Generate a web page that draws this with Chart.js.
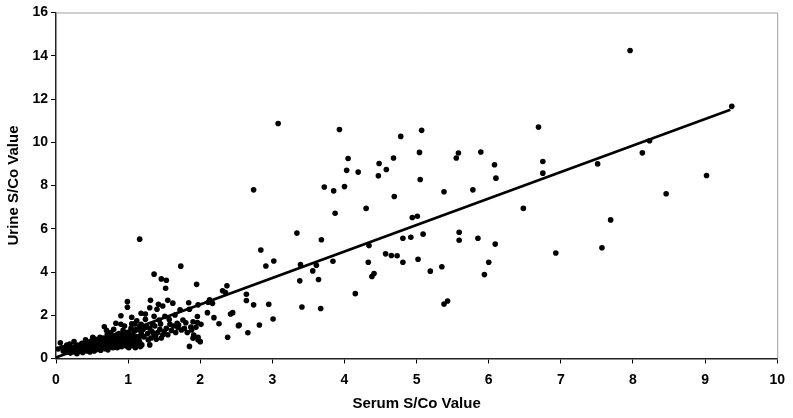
<!DOCTYPE html>
<html>
<head>
<meta charset="utf-8"/>
<title>Serum vs Urine S/Co</title>
<script src="https://cdn.jsdelivr.net/npm/chart.js@4.4.1/dist/chart.umd.min.js"></script>
<style>
  html, body { margin: 0; padding: 0; background: #fff; }
</style>
</head>
<body>
<canvas id="myChart" width="793" height="418"></canvas>
<script>
// serum (x) and urine (y) S/Co values
var serum = [
  // upper / right points
  7.96, 9.37, 7.51, 8.13, 8.23, 9.02, 8.46, 7.69, 7.57, 6.93,
  4.78, 5.07, 5.04, 5.58, 5.55, 5.89, 6.08, 6.10, 6.69, 6.75,
  6.75, 5.05, 5.38, 5.78, 6.48, 4.94, 5.01, 4.81, 4.92, 5.09,
  5.59, 5.59, 5.85, 6.09, 4.81, 5.02, 5.19, 5.35, 6.00, 5.94,
  5.38, 5.43, 3.08, 3.93, 4.05, 4.03, 4.19, 4.48, 4.47, 4.58,
  4.68, 3.72, 3.85, 4.00, 4.69, 3.87, 4.30, 3.34, 3.68, 2.84,
  2.91, 3.02, 3.39, 3.61, 3.56, 3.38, 3.64, 3.84, 4.34, 4.33,
  4.57, 4.65, 4.73, 4.41, 4.38, 4.15, 2.95, 3.41, 3.67, 2.82,
  3.01, 2.54, 2.66, 2.64, 2.64, 2.74, 2.74,
  // 1.9 - 2.6
  1.95, 2.37, 2.31, 2.35, 2.13, 2.11, 2.17, 1.97, 2.10, 1.96,
  2.19, 2.42, 2.45, 1.96, 2.01, 2.26, 1.94, 2.53, 1.97, 2.38,
  2.00,
  // 1.1 - 2.0
  1.16, 1.73, 1.36, 1.46, 1.53, 1.52, 1.31, 1.55, 1.42, 1.48,
  1.62, 1.84, 1.30, 1.40, 1.18, 1.24, 1.36, 1.51, 1.65, 1.72,
  1.85, 1.24, 1.43, 1.76, 1.18, 1.34, 1.58, 1.68, 1.90, 1.21,
  1.30, 1.44, 1.53, 1.69, 1.74, 1.88, 1.19, 1.35, 1.48, 1.91,
  1.28, 1.39, 1.90, 1.30, 1.97, 1.85, 1.19,
  1.22, 1.26, 1.27, 1.32, 1.33, 1.37, 1.38, 1.41, 1.45, 1.46,
  1.50, 1.55, 1.57, 1.60, 1.63, 1.66, 1.70, 1.78, 1.80, 1.82,
  1.87,
  // dense cluster 0 - 1.2
  0.03, 0.06, 0.10, 0.12, 0.14, 0.16, 0.18, 0.19, 0.20, 0.22,
  0.23, 0.25, 0.26, 0.27, 0.28, 0.29,
  0.31, 0.32, 0.33, 0.35, 0.36, 0.37, 0.38, 0.39, 0.41, 0.42,
  0.43, 0.44, 0.45, 0.46, 0.47, 0.48, 0.49, 0.50, 0.51, 0.52,
  0.53, 0.54, 0.55, 0.56, 0.57, 0.58, 0.59, 0.60,
  0.61, 0.62, 0.63, 0.64, 0.65, 0.66, 0.67, 0.68, 0.69, 0.70,
  0.71, 0.72, 0.73, 0.74, 0.75, 0.76, 0.77, 0.78, 0.79, 0.80,
  0.81, 0.82, 0.83, 0.84, 0.85, 0.86, 0.87, 0.88, 0.89, 0.90,
  0.90,
  0.91, 0.92, 0.93, 0.94, 0.95, 0.96, 0.97, 0.98, 0.99, 0.99,
  1.00, 1.01, 1.02, 1.03, 1.04, 1.05, 1.06, 1.07, 1.08, 1.09,
  1.10, 1.11, 1.12, 1.13, 1.14, 1.15, 1.16, 1.17, 1.18, 0.99,
  0.08, 0.15, 0.21, 0.24, 0.30, 0.34, 0.36, 0.40, 0.42, 0.44,
  0.47, 0.50, 0.52, 0.54, 0.56, 0.58, 0.60, 0.62, 0.64, 0.66,
  0.68, 0.70, 0.72, 0.74, 0.76, 0.78, 0.80, 0.82, 0.84, 0.86,
  0.88, 0.90, 0.92, 0.94, 0.96, 0.98, 1.00, 1.02, 1.04, 1.06,
  1.08, 1.10, 1.12, 1.14, 1.16, 1.20, 0.70, 0.80, 0.95, 1.05
];
var urine = [
  // upper / right points
  14.24, 11.66, 9.00, 9.51, 10.07, 8.46, 7.62, 6.41, 5.12, 4.88,
  10.27, 10.55, 9.53, 9.50, 9.27, 9.55, 8.96, 8.34, 10.70, 9.11,
  8.57, 8.28, 7.71, 7.80, 6.94, 6.52, 6.58, 5.56, 5.61, 5.75,
  5.84, 5.47, 5.56, 5.29, 4.45, 4.59, 4.04, 4.24, 4.45, 3.88,
  2.52, 2.66, 10.87, 10.59, 9.25, 8.70, 8.62, 9.02, 8.45, 8.74,
  9.27, 7.93, 7.75, 7.95, 7.49, 6.72, 6.94, 5.80, 5.49, 5.02,
  4.28, 4.51, 4.34, 4.31, 4.05, 3.59, 3.65, 4.50, 5.22, 4.45,
  4.84, 4.76, 4.75, 3.93, 3.79, 3.00, 2.51, 2.38, 2.31, 1.55,
  1.83, 1.55, 1.19, 2.97, 2.68, 2.48, 7.80,
  // 1.9 - 2.6
  3.43, 3.36, 3.13, 3.05, 2.71, 2.60, 2.55, 2.48, 2.12, 1.94,
  1.89, 2.06, 2.12, 1.66, 1.58, 1.61, 1.44, 1.52, 0.98, 0.98,
  0.78,
  // 1.1 - 2.0
  5.52, 4.27, 3.90, 3.68, 3.62, 3.25, 2.69, 2.69, 2.51, 2.43,
  2.56, 2.58, 2.35, 2.28, 2.09, 2.06, 1.95, 1.95, 2.01, 2.25,
  2.28, 1.81, 1.78, 1.78, 1.58, 1.60, 1.58, 1.63, 1.70, 1.35,
  1.40, 1.35, 1.40, 1.43, 1.32, 1.32, 1.09, 1.17, 1.09, 1.09,
  0.86, 0.89, 0.94, 0.63, 0.86, 0.56, 0.63,
  1.00, 1.45, 1.15, 0.95, 1.25, 1.50, 1.05, 1.20, 1.60, 0.95,
  1.25, 1.10, 1.80, 1.30, 1.50, 1.20, 1.55, 1.40, 1.65, 1.20,
  1.45,
  // dense cluster 0 - 1.2
  0.44, 0.73, 0.35, 0.50, 0.55, 0.30, 0.42, 0.67, 0.25, 0.38,
  0.52, 0.78, 0.30, 0.45, 0.60, 0.22,
  0.40, 0.55, 0.33, 0.65, 0.45, 0.28, 0.58, 0.38, 0.86, 0.50,
  0.35, 0.70, 0.45, 0.60, 0.30, 0.80, 0.50, 0.40, 0.98, 0.62,
  0.35, 0.72, 0.50, 0.85, 0.42, 0.60, 0.75, 0.48,
  0.98, 0.38, 0.65, 0.85, 0.52, 0.72, 1.47, 0.45, 0.90, 0.62,
  1.10, 0.40, 0.78, 1.00, 0.55, 1.20, 0.68, 0.88, 0.50, 1.05,
  0.72, 0.60, 1.63, 0.90, 0.50, 0.78, 1.15, 0.65, 0.95, 1.58,
  1.98,
  0.55, 0.80, 1.30, 0.70, 1.00, 0.60, 0.90, 1.20, 2.63, 2.37,
  0.75, 0.50, 1.10, 0.95, 1.40, 1.91, 0.60, 0.85, 1.25, 1.60,
  0.50, 1.00, 1.74, 0.70, 1.35, 0.90, 1.50, 0.55, 1.20, 0.55,
  0.50, 0.62, 0.48, 0.35, 0.62, 0.48, 0.70, 0.55, 0.72, 0.42,
  0.65, 0.70, 0.45, 0.90, 0.60, 0.78, 0.90, 0.55, 0.72, 0.95,
  0.62, 0.80, 0.95, 0.70, 0.85, 1.00, 0.65, 0.90, 1.10, 0.62,
  0.85, 1.05, 0.65, 1.15, 0.80, 0.95, 1.20, 0.70, 0.85, 1.05,
  0.65, 1.30, 0.85, 1.00, 0.75, 1.45, 1.30, 1.35, 1.50, 1.60
];
// regression line end points
var fitSerum = [0, 9.35];
var fitUrine = [0.05, 11.5];

var points = serum.map(function (s, i) { return {x: s, y: urine[i]}; });
var fitLine = fitSerum.map(function (s, i) { return {x: s, y: fitUrine[i]}; });

// thin grey frame on top and right of the plot area
var framePlugin = {
  id: 'frame',
  beforeDatasetsDraw: function (chart) {
    var a = chart.chartArea, ctx = chart.ctx;
    ctx.save();
    ctx.strokeStyle = '#a0a0a0';
    ctx.lineWidth = 1;
    ctx.beginPath();
    ctx.moveTo(a.left, a.top + 0.5);
    ctx.lineTo(a.right + 0.5, a.top + 0.5);
    ctx.lineTo(a.right + 0.5, a.bottom);
    ctx.stroke();
    ctx.restore();
  }
};

var font = 'Liberation Sans, Arial, sans-serif';

var ctx = document.getElementById('myChart');
var myChart = new Chart(ctx, {
  type: 'scatter',
  data: {
    datasets: [
      {
        data: points,
        pointRadius: 2.8,
        pointBackgroundColor: '#000',
        pointBorderWidth: 0,
        showLine: false
      },
      {
        type: 'line',
        data: fitLine,
        borderColor: '#000',
        borderWidth: 2.6,
        pointRadius: 0,
        fill: false
      }
    ]
  },
  options: {
    responsive: false,
    animation: false,
    layout: { padding: { left: 0, right: 14, top: 12.5, bottom: 0 } },
    plugins: { legend: { display: false }, tooltip: { enabled: false } },
    scales: {
      x: {
        type: 'linear',
        min: 0, max: 10,
        ticks: { stepSize: 1, color: '#000', padding: 8, font: { family: font, size: 14, weight: 'bold' } },
        grid: { drawOnChartArea: false, tickLength: 5, color: '#000' },
        border: { color: '#222', width: 1.5 },
        title: { display: true, text: 'Serum S/Co Value', color: '#000', padding: { top: 0, bottom: 5 },
                 font: { family: font, size: 15, weight: 'bold' } },
        afterFit: function (axis) { axis.height = 59.5; }
      },
      y: {
        type: 'linear',
        min: 0, max: 16,
        ticks: { stepSize: 2, color: '#000', padding: 3, font: { family: font, size: 14, weight: 'bold' } },
        grid: { drawOnChartArea: false, tickLength: 5, color: '#000' },
        border: { color: '#222', width: 1.5 },
        title: { display: true, text: 'Urine S/Co Value', color: '#000', padding: { top: 5, bottom: 0 },
                 font: { family: font, size: 15, weight: 'bold' } },
        afterFit: function (axis) { axis.width = 56; }
      }
    }
  },
  plugins: [framePlugin]
});
</script>
</body>
</html>
